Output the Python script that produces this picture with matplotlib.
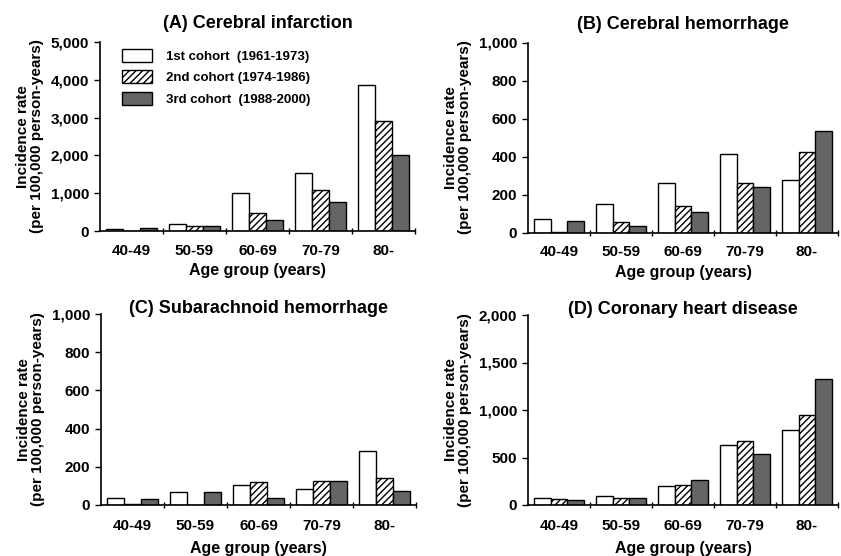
import matplotlib
matplotlib.use("Agg")
import matplotlib.pyplot as plt
import numpy as np
from matplotlib.ticker import FuncFormatter, MultipleLocator
from matplotlib.patches import Patch

plt.rcParams['font.family'] = ['Liberation Sans', 'DejaVu Sans']
plt.rcParams['font.weight'] = 'bold'
plt.rcParams['hatch.linewidth'] = 1.0

age_groups = ["40-49", "50-59", "60-69", "70-79", "80-"]
cohort_labels = ["1st cohort  (1961-1973)", "2nd cohort (1974-1986)", "3rd cohort  (1988-2000)"]

# Panel A: Cerebral infarction
infarction_1st = [40, 185, 1000, 1525, 3855]
infarction_2nd = [10, 130, 485, 1075, 2920]
infarction_3rd = [80, 140, 290, 770, 2010]
# Panel B: Cerebral hemorrhage
hemorrhage_1st = [72, 151, 263, 414, 277]
hemorrhage_2nd = [2, 53, 137, 260, 426]
hemorrhage_3rd = [61, 35, 107, 237, 532]
# Panel C: Subarachnoid hemorrhage
sah_1st = [38, 66, 106, 82, 284]
sah_2nd = [3, 0, 119, 126, 141]
sah_3rd = [30, 70, 37, 126, 72]
# Panel D: Coronary heart disease
chd_1st = [70, 95, 204, 632, 789]
chd_2nd = [60, 74, 211, 677, 947]
chd_3rd = [53, 74, 260, 537, 1323]

panels = [
    ("(A) Cerebral infarction", [infarction_1st, infarction_2nd, infarction_3rd], 5000, 1000,
     [100/841, 1 - 231/556, 315/841, 189/556], 19, 4),
    ("(B) Cerebral hemorrhage", [hemorrhage_1st, hemorrhage_2nd, hemorrhage_3rd], 1000, 200,
     [528/841, 1 - 232.5/556, 310/841, 190/556], 18, 4),
    ("(C) Subarachnoid hemorrhage", [sah_1st, sah_2nd, sah_3rd], 1000, 200,
     [101/841, 1 - 505/556, 315/841, 191/556], 6, 6),
    ("(D) Coronary heart disease", [chd_1st, chd_2nd, chd_3rd], 2000, 500,
     [528/841, 1 - 505/556, 310/841, 190/556], 6, 6),
]

styles = [
    dict(facecolor='white', hatch=None),
    dict(facecolor='white', hatch='/////'),
    dict(facecolor='#656565', hatch=None),
]

fig = plt.figure(figsize=(8.41, 5.56), dpi=100)
x = np.arange(len(age_groups))
w = 0.27
offsets = [-w, 0, w]

for i, (title, series, ymax, step, pos, title_gap, xlpad) in enumerate(panels):
    ax = fig.add_axes(pos)
    for s, off, st in zip(series, offsets, styles):
        ax.bar(x + off, s, width=w, facecolor=st['facecolor'], hatch=st['hatch'],
               edgecolor='black', linewidth=1.0)
    ax.set_xlim(-0.5, 4.5)
    ax.set_ylim(0, ymax)
    ax.yaxis.set_major_locator(MultipleLocator(step))
    ax.yaxis.set_major_formatter(FuncFormatter(lambda v, p: f"{int(v):,}"))
    ax.set_xticks(x)
    ax.set_xticklabels(age_groups)
    ax.set_xticks(np.arange(0.5, 5, 1), minor=True)
    ax.tick_params(axis='x', which='major', length=0, pad=9 if i < 2 else 10, labelsize=11)
    ax.tick_params(axis='x', which='minor', length=5, direction='inout', width=1)
    ax.tick_params(axis='y', length=4, width=1, labelsize=11, pad=4)
    for sp in ['top', 'right']:
        ax.spines[sp].set_visible(False)
    for sp in ['left', 'bottom']:
        ax.spines[sp].set_linewidth(1.2)
    h_px = pos[3] * 556
    ax.text(0.5, 1 + title_gap / h_px, title, transform=ax.transAxes, ha='center', va='center',
            fontsize=13, fontweight='bold')
    ax.set_xlabel("Age group (years)", fontsize=11.5, fontweight='bold', labelpad=xlpad)
    ax.set_ylabel("Incidence rate\n(per 100,000 person-years)", fontsize=11, fontweight='bold',
                  labelpad=5, linespacing=0.95)
    if i == 0:
        handles = [Patch(facecolor=st['facecolor'], hatch=st['hatch'], edgecolor='black', linewidth=1.0)
                   for st in styles]
        ax.legend(handles, cohort_labels, loc='upper left', bbox_to_anchor=(0.07, 0.963),
                  frameon=False, fontsize=9.5, handlelength=2.3, handleheight=1.15,
                  labelspacing=0.55, handletextpad=1.0, borderpad=0, borderaxespad=0)

fig.savefig("out.png", dpi=100)
